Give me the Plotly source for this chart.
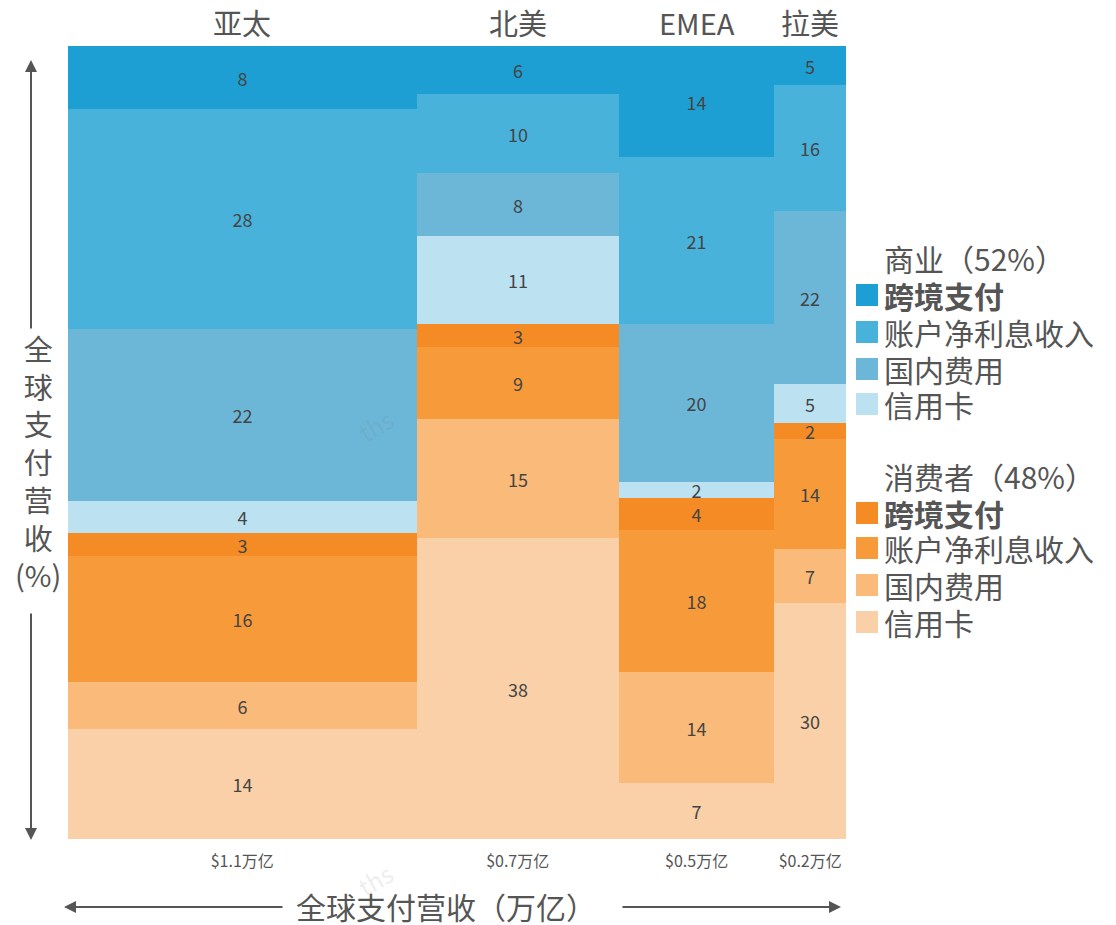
import plotly.graph_objects as go

# regions (columns), widths = global payments revenue in trillion USD
regions = ["亚太", "北美", "EMEA", "拉美"]
revenue = [1.12, 0.65, 0.50, 0.23]
revenue_labels = ["$1.1万亿", "$0.7万亿", "$0.5万亿", "$0.2万亿"]

# segment shares (%) per region, stacked bottom -> top
consumer_credit = [14, 38, 7, 30]
consumer_domestic = [6, 15, 14, 7]
consumer_interest = [16, 9, 18, 14]
consumer_cross = [3, 3, 4, 2]
business_credit = [4, 11, 2, 5]
business_domestic = [22, 8, 20, 22]
business_interest = [28, 10, 21, 16]
business_cross = [8, 6, 14, 5]

series = [
    ("消费者 信用卡", consumer_credit, "#F9D0A7"),
    ("消费者 国内费用", consumer_domestic, "#F9BA7A"),
    ("消费者 账户净利息收入", consumer_interest, "#F79B3A"),
    ("消费者 跨境支付", consumer_cross, "#F58B24"),
    ("商业 信用卡", business_credit, "#BCE2F1"),
    ("商业 国内费用", business_domestic, "#6CB6D8"),
    ("商业 账户净利息收入", business_interest, "#48B2DB"),
    ("商业 跨境支付", business_cross, "#1E9FD3"),
]

FONT = "Noto Sans CJK SC"
GREY = "#555555"

# figure size and plot area in pixels
W, H = 1116, 925
L, R, T, B = 68, 846, 46, 839


def px_x(x):
    return (x - L) / (R - L)


def px_y(y):
    return (B - y) / (B - T)


# column positions from revenue
starts = []
acc = 0
for r in revenue:
    starts.append(acc)
    acc += r
total = acc
centers = [s + w / 2 for s, w in zip(starts, revenue)]

fig = go.Figure()
for name, vals, color in series:
    fig.add_trace(go.Bar(
        x=centers, y=vals, width=revenue, name=name,
        marker=dict(color=color, line=dict(width=0)),
        text=vals, textposition="inside", insidetextanchor="middle",
        textangle=0, textfont=dict(family=FONT, size=18, color="#444444"),
        showlegend=False,
    ))

fig.update_layout(
    width=W, height=H,
    barmode="stack", barnorm="percent", bargap=0,
    plot_bgcolor="white", paper_bgcolor="white",
    margin=dict(l=L, r=W - R, t=T, b=H - B),
    font=dict(family=FONT, color=GREY),
    uniformtext=dict(minsize=17, mode="show"),
)
fig.update_xaxes(range=[0, total], tickvals=centers, ticktext=revenue_labels,
                 tickfont=dict(size=16, color=GREY), showgrid=False,
                 zeroline=False, showline=False, ticks="", ticklabelstandoff=11)
fig.update_yaxes(range=[0, 100], visible=False)


def label(x, y, text, size, **kw):
    fig.add_annotation(x=px_x(x), y=px_y(y), xref="paper", yref="paper",
                       text=text, showarrow=False,
                       xanchor=kw.pop("xanchor", "center"), yanchor="middle",
                       font=dict(size=size, color=kw.pop("color", GREY)), **kw)


def arrow(x, y, ax, ay):
    fig.add_annotation(x=px_x(x), y=px_y(y), xref="paper", yref="paper", text="",
                       showarrow=True, ax=ax, ay=ay, arrowhead=2, arrowsize=1.2,
                       arrowwidth=2, arrowcolor=GREY)


# region names on top
for c, name in zip(centers, regions):
    fig.add_annotation(x=c, xref="x", y=1, yref="paper", text=name,
                       showarrow=False, xanchor="center", yanchor="bottom", yshift=1,
                       font=dict(size=29, color=GREY))

# legend (drawn manually)
legend_groups = [
    ("商业（52%）", 258, [("跨境支付", "#1E9FD3", 295, True),
                        ("账户净利息收入", "#48B2DB", 332, False),
                        ("国内费用", "#6CB6D8", 369, False),
                        ("信用卡", "#BCE2F1", 404, False)]),
    ("消费者（48%）", 476, [("跨境支付", "#F58B24", 513, True),
                         ("账户净利息收入", "#F79B3A", 548, False),
                         ("国内费用", "#F9BA7A", 585, False),
                         ("信用卡", "#F9D0A7", 622, False)]),
]
for title, ty, items in legend_groups:
    label(882, ty, title, 30, xanchor="left")
    for name, color, iy, bold in items:
        fig.add_shape(type="rect", xref="paper", yref="paper",
                      x0=px_x(856), x1=px_x(878), y0=px_y(iy + 11), y1=px_y(iy - 11),
                      fillcolor=color, line=dict(width=0))
        label(882, iy, "<b>%s</b>" % name if bold else name, 30, xanchor="left")

# vertical axis title with arrows
label(38, 461, "全<br>球<br>支<br>付<br>营<br>收<br>(%)", 29, align="center")
arrow(31, 60, 0, 270)
arrow(31, 840, 0, -228)

# horizontal axis title with arrows
label(446, 906, "全球支付营收（万亿）", 30)
arrow(64, 907, 220, 0)
arrow(841, 907, -220, 0)

# faint watermarks
for wx, wy in [(375, 425), (375, 880)]:
    label(wx, wy, "ths", 24, textangle=-30, color="rgba(120,120,120,0.15)")

# drop the default page margin so the figure fills the window exactly
fig.write_html("out.html", config={"displayModeBar": False},
               post_script="document.body.style.margin='0px';")
